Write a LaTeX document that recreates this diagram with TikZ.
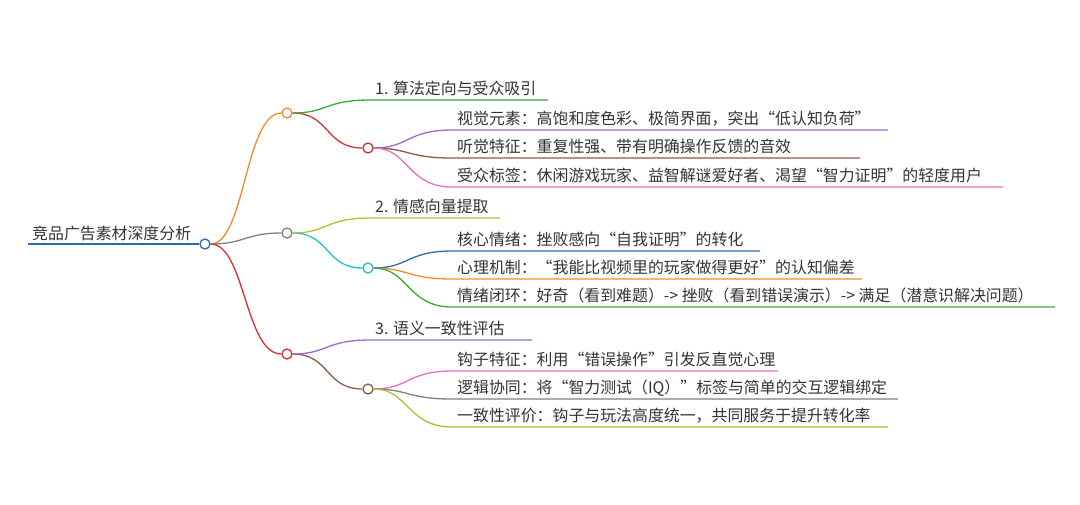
\documentclass[tikz,border=0pt]{standalone}
\usepackage{fontspec}
\setmainfont{Noto Sans CJK SC}
\usetikzlibrary{calc}
\definecolor{rootblue}{HTML}{2B6CB0}
\definecolor{morange}{HTML}{F28C28}
\definecolor{mgreen}{HTML}{3AAA35}
\definecolor{mred}{HTML}{D63031}
\definecolor{mpurple}{HTML}{9B6BC8}
\definecolor{mbrown}{HTML}{8C5A4A}
\definecolor{mpink}{HTML}{E86FC0}
\definecolor{mgrey}{HTML}{808080}
\definecolor{molive}{HTML}{B5BD2A}
\definecolor{mcyan}{HTML}{1FBFCF}
\definecolor{mtext}{HTML}{333333}

\tikzset{
  dot/.style={circle,draw,fill=white,line width=1.3pt,inner sep=0pt,minimum size=10pt},
  lbl/.style={anchor=base west,inner sep=0pt,text=mtext,font=\fontsize{15.9}{19}\selectfont},
  link/.style={line width=1.3pt},
}
% curve from a node to a coordinate, then the underline
\newcommand\branch[5]{%
  \coordinate (#2s) at #3;
  \coordinate (#2e) at #4;
  \draw[link,#1] (#5.east) .. controls ($(#5.east)+(35,0)$) and ($(#2s)+(-45,0)$) .. (#2s) -- (#2e);
}

\begin{document}
\begin{tikzpicture}[x=1pt,y=-1pt]
  \useasboundingbox (0,0) rectangle (1080,504);

  % root
  \node[lbl] (root) at (32,239) {竞品广告素材深度分析};
  \node[dot,draw=rootblue] (r) at (205,244) {};
  \draw[rootblue,line width=2pt] (28,244) -- (r.west);

  % main circles
  \node[dot,draw=morange] (b1) at (287,113) {};
  \node[dot,draw=mgrey] (b2) at (287,233) {};
  \node[dot,draw=mred] (b3) at (287,354) {};
  \draw[link,morange] (r.east) .. controls (245,244) and (245,113) .. (b1.west);
  \draw[link,mgrey] (r.east) .. controls (245,244) and (245,233) .. (b2.west);
  \draw[link,mred] (r.east) .. controls (245,244) and (245,354) .. (b3.west);

  % sub circles
  \node[dot,draw=mred] (s1) at (368,148) {};
  \node[dot,draw=mcyan] (s2) at (368,268) {};
  \node[dot,draw=mbrown] (s3) at (368,389) {};
  \draw[link,mred] (b1.east) .. controls (330,113) and (325,148) .. (s1.west);
  \draw[link,mcyan] (b2.east) .. controls (330,233) and (325,268) .. (s2.west);
  \draw[link,mbrown] (b3.east) .. controls (330,354) and (325,389) .. (s3.west);

  % branch 1
  \branch{mgreen}{t1}{(370,100)}{(548,100)}{b1}
  \node[lbl] (t1) at (375,94) {1. 算法定向与受众吸引};
  \branch{mpurple}{l11}{(452,130)}{(888,130)}{s1}
  \node[lbl] (l11) at (457,124) {视觉元素：高饱和度色彩、极简界面，突出“低认知负荷”};
  \branch{mbrown}{l12}{(452,158)}{(860,158)}{s1}
  \node[lbl] (l12) at (457,152) {听觉特征：重复性强、带有明确操作反馈的音效};
  \branch{mpink}{l13}{(452,187)}{(1003,187)}{s1}
  \node[lbl] (l13) at (457,181) {受众标签：休闲游戏玩家、益智解谜爱好者、渴望“智力证明”的轻度用户};

  % branch 2
  \branch{molive}{t2}{(370,218)}{(500,218)}{b2}
  \node[lbl] (t2) at (375,212) {2. 情感向量提取};
  \branch{rootblue}{l21}{(452,251)}{(760,251)}{s2}
  \node[lbl] (l21) at (457,245) {核心情绪：挫败感向“自我证明”的转化};
  \branch{morange}{l22}{(452,279)}{(862,279)}{s2}
  \node[lbl] (l22) at (457,273) {心理机制：“我能比视频里的玩家做得更好”的认知偏差};
  \branch{mgreen}{l23}{(452,307)}{(1055,307)}{s2}
  \node[lbl] (l23) at (457,301) {情绪闭环：好奇（看到难题）-> 挫败（看到错误演示）-> 满足（潜意识解决问题）};

  % branch 3
  \branch{mpurple}{t3}{(370,340)}{(532,340)}{b3}
  \node[lbl] (t3) at (375,334) {3. 语义一致性评估};
  \branch{mpink}{l31}{(452,371)}{(778,371)}{s3}
  \node[lbl] (l31) at (457,365) {钩子特征：利用“错误操作”引发反直觉心理};
  \branch{mgrey}{l32}{(452,399)}{(898,399)}{s3}
  \node[lbl] (l32) at (457,393) {逻辑协同：将“智力测试（IQ）”标签与简单的交互逻辑绑定};
  \branch{molive}{l33}{(452,427)}{(888,427)}{s3}
  \node[lbl] (l33) at (457,421) {一致性评价：钩子与玩法高度统一，共同服务于提升转化率};
\end{tikzpicture}
\end{document}
